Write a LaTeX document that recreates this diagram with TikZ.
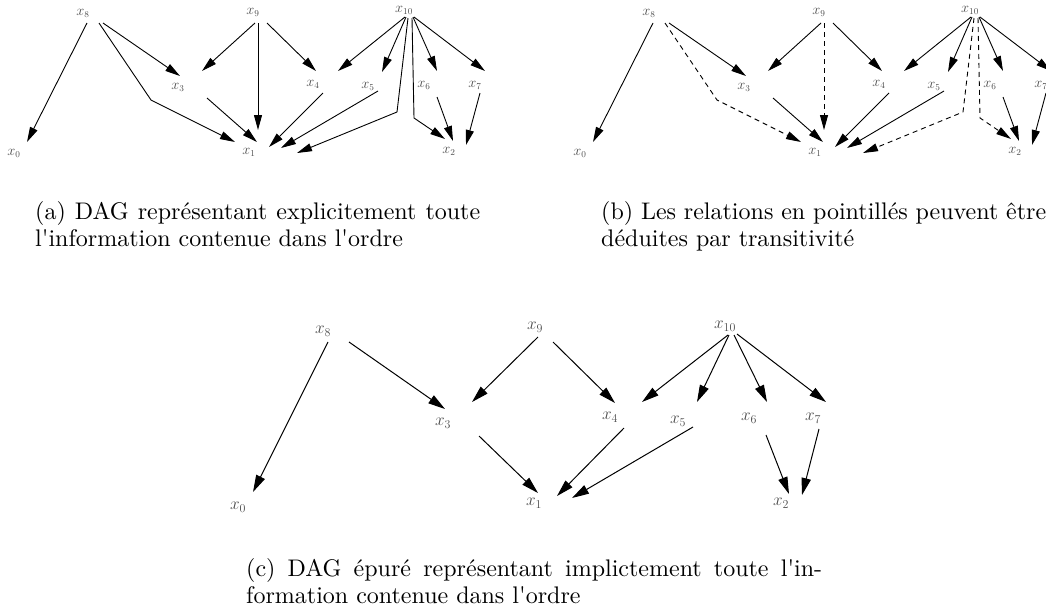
\documentclass[tikz,border=0pt]{standalone}
\usepackage{fontspec}
\newfontfamily\capfont{lmroman10-regular.otf}
\usetikzlibrary{arrows.meta,calc}

\tikzset{
  lbl/.style={text=black!70, inner sep=0pt},
  lbla/.style={lbl, font=\fontsize{13.5}{16}\selectfont},
  lblc/.style={lbl, font=\fontsize{17.2}{20}\selectfont},
  arr/.style={-{Triangle[length=15pt,width=8pt]}, line width=0.9pt},
  arrdash/.style={arr, dash pattern=on 5pt off 4pt},
  arrc/.style={-{Triangle[length=17pt,width=9.5pt]}, line width=1pt},
  captext/.style={anchor=north west, inner sep=0pt, align=left,
    font=\capfont\fontsize{24}{27}\selectfont}
}

% Full DAG of the order: #1 = name prefix, #2 = horizontal offset,
% #3 = style of the edges that follow from transitivity
\newcommand\fulldag[3]{%
\begin{scope}[xshift=#2]
  \node[lbla] (#1x8)  at (83,13)  {$x_8$};
  \node[lbla] (#1x9)  at (253,12) {$x_9$};
  \node[lbla] (#1x10) at (404,10) {$x_{10}$};
  \node[lbla] (#1x3)  at (178,87) {$x_3$};
  \node[lbla] (#1x4)  at (313,84) {$x_4$};
  \node[lbla] (#1x5)  at (368,86) {$x_5$};
  \node[lbla] (#1x6)  at (424,85) {$x_6$};
  \node[lbla] (#1x7)  at (475,85) {$x_7$};
  \node[lbla] (#1x0)  at (14,153) {$x_0$};
  \node[lbla] (#1x1)  at (249,152) {$x_1$};
  \node[lbla] (#1x2)  at (449,151) {$x_2$};
  \coordinate (#1k81)  at (151,100);
  \coordinate (#1k101) at (397,112);
  \coordinate (#1k102) at (414,118);
  % direct relations
  \draw[arr] ($(#1x8)+(4,10)$)   -- ($(#1x0)+(13,-11)$);
  \draw[arr] ($(#1x8)+(20,10)$)  -- ($(#1x3)+(2,-11)$);
  \draw[arr] ($(#1x9)+(2,11)$)   -- ($(#1x3)+(24,-16)$);
  \draw[arr] ($(#1x9)+(14,11)$)  -- ($(#1x4)+(3,-13)$);
  \draw[arr] ($(#1x10)+(1,7)$)   -- ($(#1x4)+(25,-13)$);
  \draw[arr] ($(#1x10)+(2,7)$)   -- ($(#1x5)+(14,-14)$);
  \draw[arr] ($(#1x10)+(9,7)$)   -- ($(#1x6)+(13,-14)$);
  \draw[arr] ($(#1x10)+(10,7)$)  -- ($(#1x7)+(10,-14)$);
  \draw[arr] ($(#1x3)+(29,11)$)  -- ($(#1x1)+(8,-10)$);
  \draw[arr] ($(#1x4)+(10,9)$)   -- ($(#1x1)+(20,-5)$);
  \draw[arr] ($(#1x5)+(10,5)$)   -- ($(#1x1)+(32,-4)$);
  \draw[arr] ($(#1x6)+(13,12)$)  -- ($(#1x2)+(4,-10)$);
  \draw[arr] ($(#1x7)+(5,8)$)    -- ($(#1x2)+(17,-6)$);
  % relations implied by transitivity
  \draw[#3] ($(#1x8)+(16,10)$) -- (#1k81) -- ($(#1x1)+(-14,-10)$);
  \draw[#3] ($(#1x9)+(5,11)$)  -- ($(#1x1)+(9,-22)$);
  \draw[#3] ($(#1x10)+(4,8)$)  -- (#1k101) -- ($(#1x1)+(48,1)$);
  \draw[#3] ($(#1x10)+(8,8)$)  -- (#1k102) -- ($(#1x2)+(-4,-12)$);
\end{scope}}

\begin{document}
\begin{tikzpicture}[x=1pt,y=-1pt]
  \useasboundingbox (0,0) rectangle (1046,614);
  \clip (0,0) rectangle (1046,614);

  % (a) and (b)
  \fulldag{a}{0pt}{arr}
  \fulldag{b}{566pt}{arrdash}

  \node[captext] (capa) at (35,201)
    {\makebox[445pt][s]{(a) DAG représentant explicitement toute}\\
     l'information contenue dans l'ordre};
  \node[captext] (capb) at (601,201)
    {\makebox[445pt][s]{(b) Les relations en pointillés peuvent être}\\
     déduites par transitivité};

  % (c) reduced DAG
  \node[lblc] (cx8)  at (323,331) {$x_8$};
  \node[lblc] (cx9)  at (535,327) {$x_9$};
  \node[lblc] (cx10) at (725,326) {$x_{10}$};
  \node[lblc] (cx3)  at (443,423) {$x_3$};
  \node[lblc] (cx4)  at (610,417) {$x_4$};
  \node[lblc] (cx5)  at (678,421) {$x_5$};
  \node[lblc] (cx6)  at (749,418) {$x_6$};
  \node[lblc] (cx7)  at (813,418) {$x_7$};
  \node[lblc] (cx0)  at (238,507) {$x_0$};
  \node[lblc] (cx1)  at (534,503) {$x_1$};
  \node[lblc] (cx2)  at (781,503) {$x_2$};

  \draw[arrc] ($(cx8)+(5,11)$)   -- ($(cx0)+(15,-15)$);
  \draw[arrc] ($(cx8)+(26,11)$)  -- ($(cx3)+(2,-14)$);
  \draw[arrc] ($(cx9)+(3,10)$)   -- ($(cx3)+(29,-21)$);
  \draw[arrc] ($(cx9)+(18,15)$)  -- ($(cx4)+(5,-14)$);
  \draw[arrc] ($(cx10)+(3,9)$)   -- ($(cx4)+(32,-15)$);
  \draw[arrc] ($(cx10)+(4,9)$)   -- ($(cx5)+(19,-19)$);
  \draw[arrc] ($(cx10)+(9,9)$)   -- ($(cx6)+(18,-16)$);
  \draw[arrc] ($(cx10)+(12,8)$)  -- ($(cx7)+(13,-16)$);
  \draw[arrc] ($(cx3)+(36,13)$)  -- ($(cx1)+(4,-10)$);
  \draw[arrc] ($(cx4)+(14,11)$)  -- ($(cx1)+(23,-7)$);
  \draw[arrc] ($(cx5)+(15,6)$)   -- ($(cx1)+(38,-5)$);
  \draw[arrc] ($(cx6)+(17,17)$)  -- ($(cx2)+(8,-9)$);
  \draw[arrc] ($(cx7)+(6,11)$)   -- ($(cx2)+(21,-8)$);

  \node[captext] (capc) at (246,558)
    {\makebox[576pt][s]{(c) DAG épuré représentant implictement toute l'in-}\\
     formation contenue dans l'ordre};
\end{tikzpicture}
\end{document}
